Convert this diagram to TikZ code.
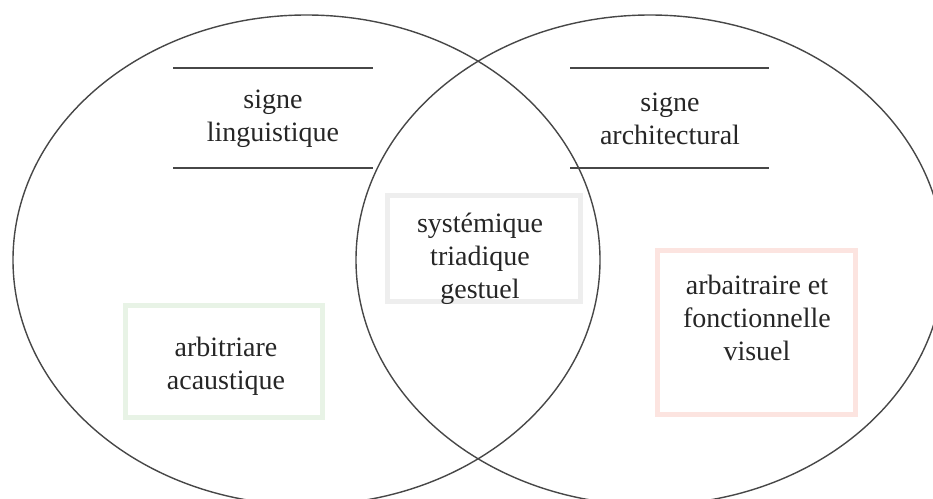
\documentclass[tikz,border=0pt]{standalone}
\usepackage{fontspec}
\setmainfont{Liberation Serif}
\begin{document}
\begin{tikzpicture}[x=1pt,y=-1pt,
  setline/.style={line width=1.4pt, draw=black!72},
  label/.style={align=center, font=\fontsize{28}{33}\selectfont, text=black!85, inner sep=0pt},
  framebox/.style={rectangle, line width=5pt, inner sep=0pt}
]
\useasboundingbox (0,0) rectangle (933,498);

% the two overlapping sets
\draw[setline] (306.5,260) ellipse [x radius=293.5pt, y radius=245pt];
\draw[setline] (650,260) ellipse [x radius=294pt, y radius=245pt];

% title rules of each set
\coordinate (lt1) at (173,68);  \coordinate (lt2) at (373,68);
\coordinate (lb1) at (173,168); \coordinate (lb2) at (373,168);
\coordinate (rt1) at (570,68);  \coordinate (rt2) at (769,68);
\coordinate (rb1) at (570,168); \coordinate (rb2) at (769,168);
\draw[setline] (lt1) -- (lt2);
\draw[setline] (lb1) -- (lb2);
\draw[setline] (rt1) -- (rt2);
\draw[setline] (rb1) -- (rb2);

\node[label] (ling) at (273,119) {signe\\linguistique};
\node[label] (arch) at (670,119) {signe\\architectural};

% property frames
\node[framebox, draw={rgb,255:red,232;green,243;blue,230}, minimum width=197pt, minimum height=112pt] (gbox) at (224,361.5) {};
\node[framebox, draw={rgb,255:red,238;green,238;blue,238}, minimum width=193pt, minimum height=106pt] (cbox) at (484,248.5) {};
\node[framebox, draw={rgb,255:red,252;green,228;blue,224}, minimum width=198pt, minimum height=164pt] (pbox) at (756.5,332.5) {};

\node[label] (acou) at (226,366) {arbitriare\\acaustique};
\node[label] (comm) at (480,259) {systémique\\triadique\\gestuel};
\node[label] (visu) at (757,318) {arbaitraire et\\fonctionnelle\\visuel};
\end{tikzpicture}
\end{document}
